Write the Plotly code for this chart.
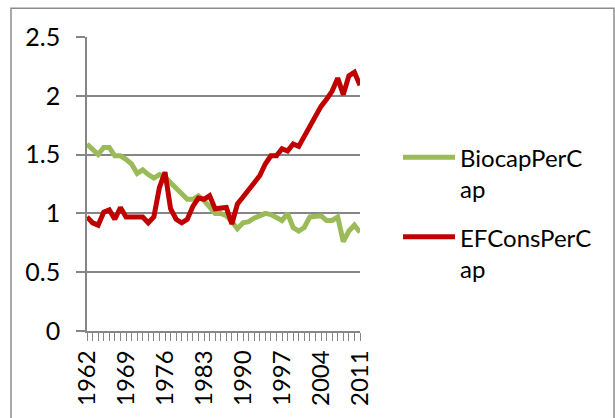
import plotly.graph_objects as go

years = list(range(1962, 2012))
biocap = [1.59, 1.55, 1.50, 1.56, 1.56, 1.49, 1.49, 1.46, 1.42, 1.34,
          1.37, 1.33, 1.30, 1.33, 1.31, 1.26, 1.21, 1.17, 1.12, 1.12,
          1.15, 1.11, 1.06, 1.00, 1.00, 0.98, 0.93, 0.87, 0.92, 0.93,
          0.96, 0.98, 1.00, 0.99, 0.97, 0.94, 1.00, 0.88, 0.85, 0.88,
          0.97, 0.98, 0.98, 0.94, 0.94, 0.97, 0.76, 0.85, 0.90, 0.84]
efcons = [0.97, 0.92, 0.90, 1.01, 1.03, 0.95, 1.05, 0.97, 0.97, 0.97,
          0.97, 0.92, 0.97, 1.22, 1.35, 1.04, 0.95, 0.92, 0.95, 1.06,
          1.13, 1.12, 1.15, 1.04, 1.04, 1.05, 0.91, 1.08, 1.14, 1.20,
          1.27, 1.32, 1.42, 1.49, 1.49, 1.55, 1.53, 1.59, 1.57, 1.66,
          1.73, 1.82, 1.91, 1.97, 2.04, 2.15, 2.01, 2.17, 2.20, 2.09]
series_names = ["BiocapPerC<br>ap", "EFConsPerC<br>ap"]
series_colors = ["#9BBB59", "#C00000"]

W, H = 615, 418
ML, MR, MT, MB = 87, 255, 37, 85
pw, ph = W - ML - MR, H - MT - MB
FONT = "Lato"
GRID = "#868686"


def px_to_paper_x(px):
    return (px - ML) / pw


def px_to_paper_y(py):
    return (H - MB - py) / ph


fig = go.Figure()
for name, vals, col in zip(series_names, [biocap, efcons], series_colors):
    fig.add_trace(go.Scatter(x=years, y=vals, mode="lines", name=name,
                             showlegend=False,
                             line=dict(color=col, width=5)))

# legend drawn as line samples + text (Excel-style long sample lines)
legend_rows_px = [158, 238]
for name, col, ypx in zip(series_names, series_colors, legend_rows_px):
    fig.add_shape(type="line", xref="paper", yref="paper",
                  x0=px_to_paper_x(403), x1=px_to_paper_x(455),
                  y0=px_to_paper_y(ypx), y1=px_to_paper_y(ypx),
                  line=dict(color=col, width=5))
    fig.add_annotation(xref="paper", yref="paper",
                       x=px_to_paper_x(458), y=px_to_paper_y(ypx + 16),
                       xanchor="left", yanchor="middle", align="left",
                       text=name, showarrow=False,
                       font=dict(family=FONT, size=24, color="#000000"))

# chart-area border
fig.add_shape(type="rect", xref="paper", yref="paper",
              x0=px_to_paper_x(11), x1=px_to_paper_x(614),
              y0=px_to_paper_y(425), y1=px_to_paper_y(8),
              line=dict(color="#8c8c8c", width=1.5), fillcolor="rgba(0,0,0,0)",
              layer="below")

fig.update_layout(
    width=W, height=H,
    margin=dict(l=ML, r=MR, t=MT, b=MB),
    paper_bgcolor="white", plot_bgcolor="white",
    font=dict(family=FONT, size=24, color="#000000"),
    showlegend=False,
    xaxis=dict(range=[1962, 2011], tick0=1962, dtick=7, tickangle=-90,
               showgrid=False, zeroline=False,
               showline=True, linecolor=GRID, linewidth=1.5,
               ticks="outside", ticklen=8, tickcolor=GRID, tickwidth=1,
               minor=dict(dtick=1, ticks="outside", ticklen=8, tickcolor=GRID, tickwidth=1),
               tickfont=dict(family=FONT, size=24, color="#000000")),
    yaxis=dict(range=[0, 2.5], dtick=0.5, showgrid=True, gridcolor=GRID, gridwidth=1.5,
               zeroline=False, showline=True, linecolor=GRID, linewidth=1.5,
               ticks="outside", ticklen=9, tickcolor=GRID, tickwidth=1.5,
               ticklabelstandoff=11,
               tickfont=dict(family=FONT, size=25, color="#000000")),
)

fig.write_html("out.html", config={"displayModeBar": False},
               post_script="document.body.style.margin='0';document.body.style.overflow='hidden';")
